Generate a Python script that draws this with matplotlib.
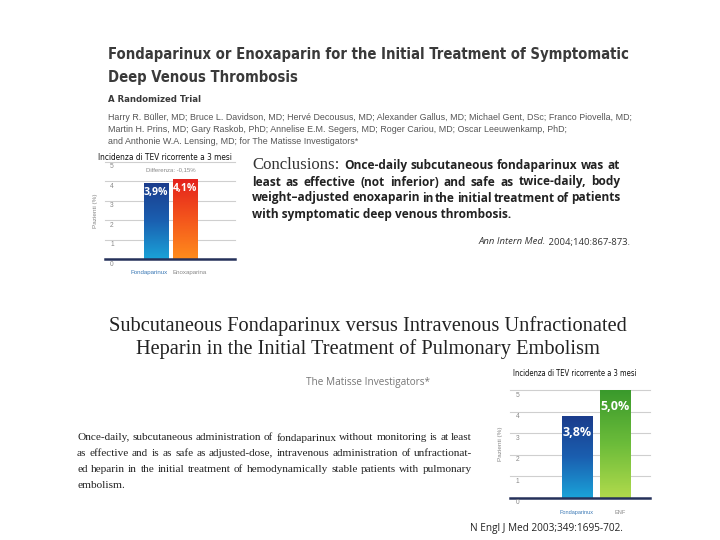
import numpy as np
import matplotlib
matplotlib.use("Agg")
import matplotlib.pyplot as plt
from matplotlib.colors import LinearSegmentedColormap

# dati dei due grafici
cat_dvt = ["Fondaparinux", "Enoxaparina"]
val_dvt = [3.9, 4.1]
lab_dvt = ["3,9%", "4,1%"]
cat_pe = ["Fondaparinux", "ENF"]
val_pe = [3.8, 5.0]
lab_pe = ["3,8%", "5,0%"]
y_ticks = [0, 1, 2, 3, 4, 5]
chart_title = "Incidenza di TEV ricorrente a 3 mesi"

title1 = ["Fondaparinux or Enoxaparin for the Initial Treatment of Symptomatic",
          "Deep Venous Thrombosis"]
authors = ["Harry R. Büller, MD; Bruce L. Davidson, MD; Hervé Decousus, MD; Alexander Gallus, MD; Michael Gent, DSc; Franco Piovella, MD;",
           "Martin H. Prins, MD; Gary Raskob, PhD; Annelise E.M. Segers, MD; Roger Cariou, MD; Oscar Leeuwenkamp, PhD;",
           "and Anthonie W.A. Lensing, MD; for The Matisse Investigators*"]
concl = ["Once-daily subcutaneous fondaparinux was at",
         "least as effective (not inferior) and safe as twice-daily, body",
         "weight–adjusted enoxaparin in the initial treatment of patients",
         "with symptomatic deep venous thrombosis."]
title2 = ["Subcutaneous Fondaparinux versus Intravenous Unfractionated",
          "Heparin in the Initial Treatment of Pulmonary Embolism"]
para2 = ["Once-daily, subcutaneous administration of fondaparinux without monitoring is at least",
         "as effective and is as safe as adjusted-dose, intravenous administration of unfractionat-",
         "ed heparin in the initial treatment of hemodynamically stable patients with pulmonary",
         "embolism."]

COND = ["DejaVu Sans"]
SANS = ["Liberation Sans", "DejaVu Sans"]
SERIF = ["Liberation Serif", "DejaVu Serif"]
OPEN = ["Open Sans", "DejaVu Sans"]

W, H = 720, 540
fig = plt.figure(figsize=(7.2, 5.4), dpi=100)
fig.patch.set_facecolor("white")
renderer = fig.canvas.get_renderer()


def fx(x, y):
    return x / W, 1 - y / H


def txt(x, y, s, **kw):
    return fig.text(*fx(x, y), s, **kw)


def fit(t, width):
    # adatta la dimensione del testo alla larghezza voluta (pixel)
    w = t.get_window_extent(renderer).width
    t.set_fontsize(t.get_fontsize() * width / w)
    return t.get_fontsize()


def justify(line, x0, x1, y, **kw):
    words = line.split()
    tt = [txt(0, y, w, ha="left", va="center", **kw) for w in words]
    ws = [t.get_window_extent(renderer).width for t in tt]
    gap = (x1 - x0 - sum(ws)) / max(len(words) - 1, 1)
    x = x0
    for t, wd in zip(tt, ws):
        t.set_position(fx(x, y))
        x += wd + gap


# intestazione articolo 1
hk = dict(family=COND, weight="bold", color="#3a3a3a", va="center", fontstretch="condensed")
t = txt(108, 55, title1[0], fontsize=13, **hk)
fs = fit(t, 520)
txt(108, 78, title1[1], fontsize=fs, **hk)
txt(108, 99, "A Randomized Trial", fontsize=fs * 0.64, **hk)
t = txt(108, 117, authors[0], family=SANS, fontsize=6, color="#555555", va="center")
fs = fit(t, 524)
for i, a in enumerate(authors[1:]):
    txt(108, 129 + 12 * i, a, family=SANS, fontsize=fs, color="#555555", va="center")

# conclusioni
c = txt(252, 165, "Conclusions:", family=SERIF, fontsize=11.5, color="#333333", va="center")
fit(c, 88)
cx = c.get_window_extent(renderer).x1 + 5
probe = txt(0, 0, concl[1], family=OPEN, weight="bold", fontsize=8)
cfs = fit(probe, 352)
probe.remove()
ck = dict(family=OPEN, weight="bold", fontsize=cfs, color="#222222")
justify(concl[0], cx, 620, 166, **ck)
justify(concl[1], 252, 620, 182, **ck)
justify(concl[2], 252, 620, 198, **ck)
txt(252, 214, concl[3], va="center", **ck)
r = txt(630, 242, " 2004;140:867-873.", family=OPEN, fontsize=6.8, color="#333333", ha="right", va="center")
rx = r.get_window_extent(renderer).x0
txt(rx, 242, "Ann Intern Med.", family=OPEN, fontsize=6.8, style="italic", color="#333333", ha="right", va="center")

# intestazione articolo 2
t = txt(368, 326, title2[0], family=SERIF, fontsize=14, color="#222222", ha="center", va="center")
fs = fit(t, 520)
txt(368, 349, title2[1], family=SERIF, fontsize=fs, color="#222222", ha="center", va="center")
txt(368, 383, "The Matisse Investigators*", family=OPEN, fontsize=7.2, color="#777777", ha="center", va="center")
probe = txt(0, 0, para2[0], family=SERIF, fontsize=8)
pfs = fit(probe, 392)
probe.remove()
for i, line in enumerate(para2):
    if i < 3:
        justify(line, 77, 472, 438 + 16 * i, family=SERIF, fontsize=pfs, color="#222222")
    else:
        txt(77, 438 + 16 * i, line, family=SERIF, fontsize=pfs, color="#222222", va="center")
txt(470, 528, "N Engl J Med 2003;349:1695-702.", family=OPEN, fontsize=7.2, color="#222222", va="center")

blue = LinearSegmentedColormap.from_list("b", ["#1aa2d8", "#1b5fb0", "#1a3c8c"])
red = LinearSegmentedColormap.from_list("r", ["#ff8c1c", "#f4561c", "#e4221c"])
green = LinearSegmentedColormap.from_list("g", ["#b0da4c", "#6cbc3a", "#3a9a2c"])


def bar_chart(rect, cats, vals, labs, cmaps, xlim, width, lab_dx, title, title_xy,
              title_w, diff=None, fs=7.5, lab_off=0.5, cat_fs=4.4):
    ax = fig.add_axes(rect)
    for s in ax.spines.values():
        s.set_visible(False)
    for tk in y_ticks[1:]:
        ax.axhline(tk, color="#cfcfcf", lw=0.8, zorder=0, clip_on=False)
    ax.axhline(0, color="#25315a", lw=1.8, zorder=3, clip_on=False)
    x = np.arange(len(cats))
    bars = ax.bar(x, vals, width=width, color="none", zorder=2)
    grad = np.linspace(0, 1, 100).reshape(-1, 1)
    for b, cm in zip(bars, cmaps):
        x0, y0 = b.get_x(), b.get_y()
        im = ax.imshow(grad, cmap=cm, origin="lower", aspect="auto", zorder=2,
                       extent=(x0, x0 + b.get_width(), y0, y0 + b.get_height()))
        im.set_clip_path(b)
    for xi, v, lb in zip(x, vals, labs):
        ax.text(xi, v - lab_off, lb, ha="center", va="center", color="white",
                weight="bold", fontsize=fs, family=OPEN, zorder=4)
    ax.set_xlim(*xlim)
    ax.set_ylim(0, 5)
    ax.set_yticks([])
    ax.set_xticks([])
    tr = ax.get_yaxis_transform()
    for tk in y_ticks:
        ax.text(0.04, tk - 0.08, str(tk), transform=tr, ha="left", va="top",
                fontsize=4.8, color="#888888", family=SANS)
    colors = ["#3a78b5", "#888888"]
    for xi, cat, dx, col in zip(x, cats, lab_dx, colors):
        ax.text(xi + dx, -0.68, cat, ha="center", va="center", fontsize=cat_fs,
                color=col, family=SANS)
    ax.set_ylabel("Pazienti (%)", fontsize=4.6, color="#888888", family=SANS)
    ax.yaxis.set_label_coords(-0.05, 0.5)
    ax.set_facecolor("none")
    if diff:
        ax.text(0.5, 4.55, diff, ha="center", va="center", fontsize=4.3, color="#888888", family=SANS)
    tt = txt(*title_xy, title, family=COND, fontsize=6.6, color="#111111", ha="center",
             va="center", fontstretch="condensed")
    fit(tt, title_w)
    return ax


# grafico 1: TVP
l1, r1, b1, t1 = 105, 235, 259, 161.5
bar_chart([l1 / W, 1 - b1 / H, (r1 - l1) / W, (b1 - t1) / H],
          cat_dvt, val_dvt, lab_dvt, [blue, red], (-1.76, 2.72), 0.83, [-0.24, 0.17],
          chart_title, (165, 157), 134, diff="Differenza: -0,15%", fs=7.6, lab_off=0.5)

# grafico 2: EP
l2, r2, b2, t2 = 510, 650, 497.7, 390
bar_chart([l2 / W, 1 - b2 / H, (r2 - l2) / W, (b2 - t2) / H],
          cat_pe, val_pe, lab_pe, [blue, green], (-1.76, 1.92), 0.79, [0.0, 0.13],
          chart_title, (575, 374), 124, fs=9, lab_off=0.75, cat_fs=4.0)

fig.savefig("out.png", dpi=100, facecolor="white")
